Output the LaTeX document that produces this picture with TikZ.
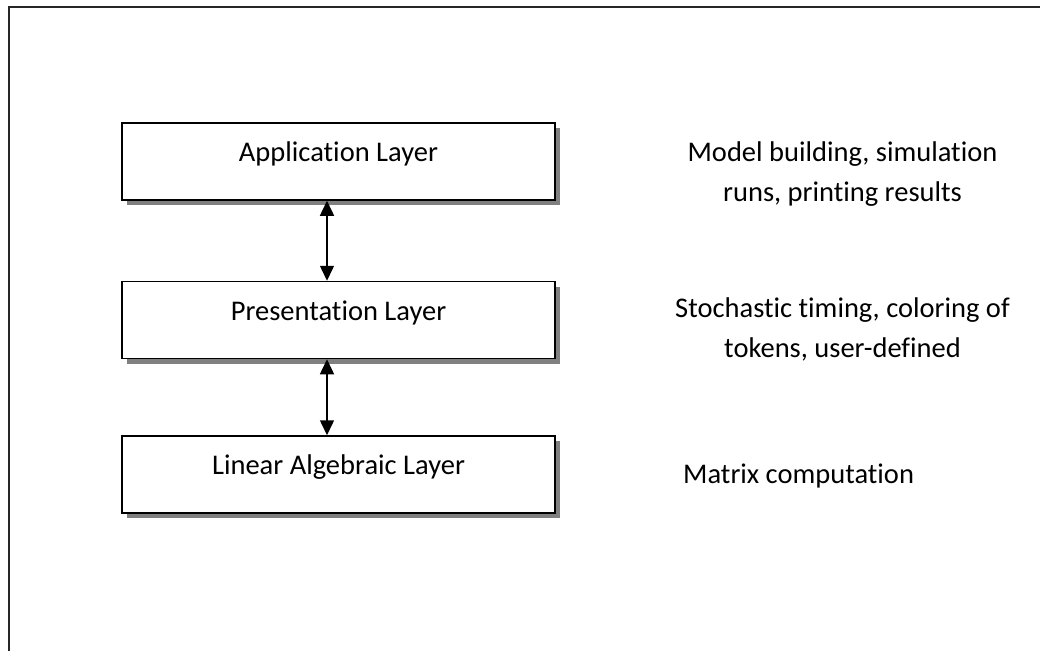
\documentclass[tikz,border=0pt]{standalone}
\usepackage{fontspec}
\setmainfont{Carlito}[Ligatures={NoCommon}]
\usetikzlibrary{arrows.meta,shadows}

\begin{document}
\begin{tikzpicture}[x=1pt,y=-1pt,
  layerbox/.style={draw, line width=1.5pt, fill=white,
    minimum width=433pt, minimum height=77pt, inner sep=0pt,
    text height=20pt, text depth=20pt,
    font=\fontsize{28.5}{34}\selectfont,
    general shadow={fill=black!50, shadow xshift=5pt, shadow yshift=-5pt}},
  desc/.style={align=center, inner sep=0pt,
    font=\fontsize{28.5}{40}\selectfont},
  link/.style={line width=1.5pt, {Triangle[width=14pt,length=15pt]}-{Triangle[width=14pt,length=15pt]}},
  frame/.style={line width=2pt, draw=black!85}]
  \useasboundingbox (0,0) rectangle (1040,651);

  % page frame (only its top and left edges fall inside the picture)
  \coordinate (fa) at (9,651);
  \coordinate (fb) at (9,7);
  \coordinate (fc) at (1045,7);
  \draw[frame] (fa) -- (fb) -- (fc);

  % the three layers
  \node[layerbox] (app)  at (338.5,161.5) {Application Layer};
  \node[layerbox] (pres) at (338.5,320)   {Presentation Layer};
  \node[layerbox] (lin)  at (338.5,474.5) {Linear Algebraic Layer};

  % links between neighbouring layers
  \coordinate (ax) at (327,0);
  \draw[link] (app.south -| ax) -- (pres.north -| ax);
  \draw[link] (pres.south -| ax) -- (lin.north -| ax);

  % what each layer does (base = baseline of the last line)
  \node[desc, anchor=base] (dapp)  at (842.5,201.7) {Model building, simulation\\runs, printing results};
  \node[desc, anchor=base] (dpres) at (842.5,357)   {Stochastic timing, coloring of\\tokens, user-defined};
  \node[desc, anchor=base west] (dlin) at (683,483) {Matrix computation};
\end{tikzpicture}
\end{document}
